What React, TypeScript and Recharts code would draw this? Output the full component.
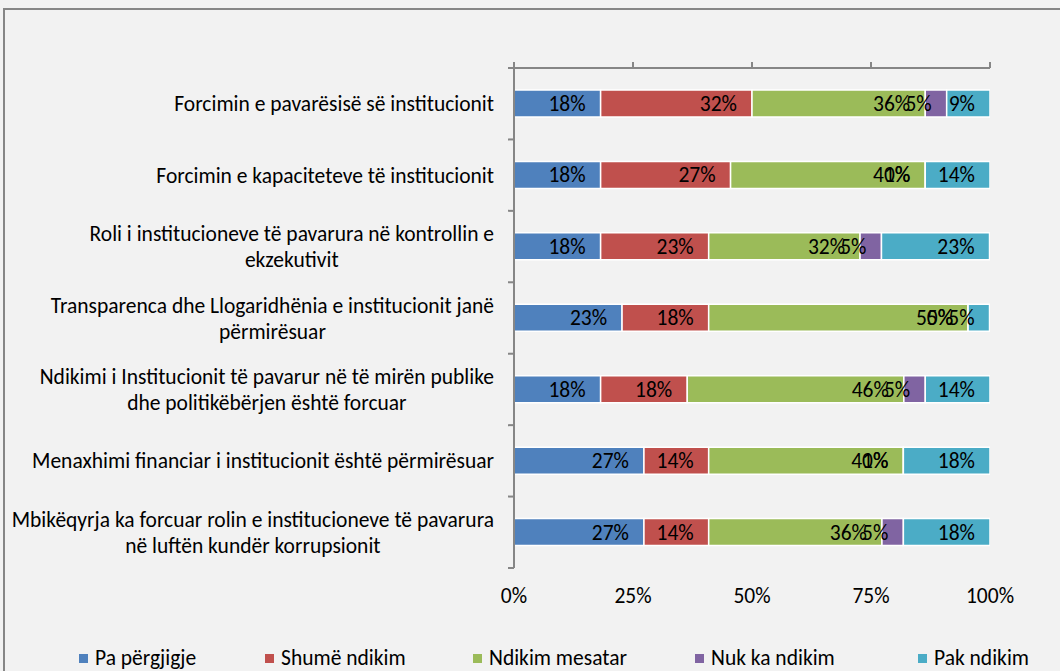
import { Bar, BarChart, LabelList, Legend, XAxis, YAxis } from 'recharts'

const FONT = 'Carlito, Calibri, Lato, sans-serif'
const FS = 21.5
const AXIS = '#868686'

// kategorite (\n = rresht i ri si ne origjinal)
const categories = [
  'Forcimin e pavarësisë së institucionit',
  'Forcimin e kapaciteteve të institucionit',
  'Roli i institucioneve të pavarura në kontrollin e\nekzekutivit',
  'Transparenca dhe Llogaridhënia e institucionit janë\npërmirësuar',
  'Ndikimi i Institucionit të pavarur në të mirën publike\ndhe politikëbërjen është forcuar',
  'Menaxhimi financiar i institucionit është përmirësuar',
  'Mbikëqyrja ka forcuar rolin e institucioneve të pavarura\nnë luftën kundër korrupsionit',
]

const paPergjigje = [18.2, 18.2, 18.2, 22.7, 18.2, 27.3, 27.3]
const shumeNdikim = [31.8, 27.3, 22.7, 18.2, 18.2, 13.6, 13.6]
const ndikimMesatar = [36.4, 40.9, 31.8, 54.5, 45.5, 40.9, 36.4]
const nukKaNdikim = [4.5, 0, 4.5, 0, 4.5, 0, 4.5]
const pakNdikim = [9.1, 13.6, 22.7, 4.5, 13.6, 18.2, 18.2]

const xTicks = [0, 25, 50, 75, 100]

const series = [
  { key: 'pa', name: 'Pa përgjigje', color: '#4f81bd', values: paPergjigje },
  { key: 'shume', name: 'Shumë ndikim', color: '#c0504d', values: shumeNdikim },
  { key: 'mesatar', name: 'Ndikim mesatar', color: '#9bbb59', values: ndikimMesatar },
  { key: 'nuk', name: 'Nuk ka ndikim', color: '#8064a2', values: nukKaNdikim },
  { key: 'pak', name: 'Pak ndikim', color: '#4bacc6', values: pakNdikim },
]

const data = categories.map((name, i) => {
  const row: Record<string, any> = { name }
  series.forEach((s) => (row[s.key] = s.values[i]))
  return row
})

let ctx: CanvasRenderingContext2D | null = null
function textWidth(t: string) {
  if (!ctx) ctx = document.createElement('canvas').getContext('2d')
  if (!ctx) return t.length * FS * 0.45
  ctx.font = `${FS}px ${FONT}`
  return ctx.measureText(t).width
}

function CatTick(props: any) {
  const { x, y, payload, index } = props
  const half = payload.offset || 35.7
  const lines = String(payload.value).split('\n')
  const maxW = Math.max(...lines.map(textWidth))
  const cx = x - 20 - maxW / 2
  const lh = 26
  const y0 = y - ((lines.length - 1) * lh) / 2
  return (
    <g>
      <line x1={x - 6} x2={x} y1={y - half} y2={y - half} stroke={AXIS} strokeWidth={2} />
      {index === categories.length - 1 && (
        <line x1={x - 6} x2={x} y1={y + half} y2={y + half} stroke={AXIS} strokeWidth={2} />
      )}
      <text textAnchor="middle" fontFamily={FONT} fontSize={FS} fill="#000">
        {lines.map((l, i) => (
          <tspan key={i} x={cx} y={y0 + i * lh} dy="0.35em">
            {l}
          </tspan>
        ))}
      </text>
    </g>
  )
}

// etiketa "inside end" si ne Excel, edhe per vlerat 0
function barLabel(p: any) {
  const { x, y, width, height, value } = p
  if (value == null) return null
  return (
    <text
      x={Number(x) + Number(width) - 15}
      y={Number(y) + Number(height) / 2}
      dy="0.35em"
      textAnchor="end"
      fontFamily={FONT}
      fontSize={FS}
      fill="#000"
    >
      {`${Math.round(Number(value))}%`}
    </text>
  )
}

const legendWidths = [186, 208, 222, 223, 120]

function LegendBox() {
  return (
    <div style={{ display: 'flex', paddingLeft: 79, fontFamily: FONT, fontSize: FS, color: '#000', lineHeight: '24px' }}>
      {series.map((s, i) => (
        <div key={s.key} style={{ width: legendWidths[i], display: 'flex', alignItems: 'center' }}>
          <span style={{ width: 9, height: 9, background: s.color, marginRight: 7, display: 'inline-block' }} />
          <span>{s.name}</span>
        </div>
      ))}
    </div>
  )
}

export default function App() {
  return (
    <div style={{ position: 'fixed', inset: 0, background: '#f2f2f2', overflow: 'hidden' }}>
      <div
        style={{
          position: 'absolute',
          left: 3,
          top: 8,
          width: 1100,
          height: 720,
          border: `2px solid ${AXIS}`,
        }}
      />
      <div style={{ position: 'absolute', left: 0, top: 0 }}>
        <BarChart
          layout="vertical"
          width={1060}
          height={671}
          data={data}
          barSize={27}
          margin={{ top: 38, right: 70, bottom: 63, left: 0 }}
        >
          <XAxis
            xAxisId="top"
            orientation="top"
            type="number"
            domain={[0, 100]}
            allowDataOverflow
            ticks={xTicks}
            height={30}
            axisLine={{ stroke: AXIS, strokeWidth: 2 }}
            tickLine={{ stroke: AXIS, strokeWidth: 2 }}
            tickSize={6}
            tick={() => <g />}
          />
          <XAxis
            xAxisId="bottom"
            orientation="bottom"
            type="number"
            domain={[0, 100]}
            allowDataOverflow
            ticks={xTicks}
            height={40}
            axisLine={false}
            tickLine={false}
            tickSize={6}
            tickMargin={14}
            tickFormatter={(v: number) => `${v}%`}
            tick={{ fill: '#000', fontSize: FS, fontFamily: FONT }}
          />
          <YAxis
            type="category"
            dataKey="name"
            width={514}
            interval={0}
            axisLine={{ stroke: AXIS, strokeWidth: 2 }}
            tickLine={false}
            tickSize={0}
            tickMargin={0}
            tick={<CatTick />}
          />
          <Legend
            layout="horizontal"
            verticalAlign="middle"
            align="center"
            wrapperStyle={{ left: 0, top: 646, width: 1060 }}
            content={() => <LegendBox />}
          />
          {series.map((s) => (
            <Bar
              key={s.key}
              dataKey={s.key}
              name={s.name}
              stackId="a"
              xAxisId="bottom"
              fill={s.color}
              stroke="#fff"
              strokeWidth={1.5}
              minPointSize={0.01}
              isAnimationActive={false}
            >
              <LabelList dataKey={s.key} content={barLabel} />
            </Bar>
          ))}
        </BarChart>
      </div>
    </div>
  )
}
